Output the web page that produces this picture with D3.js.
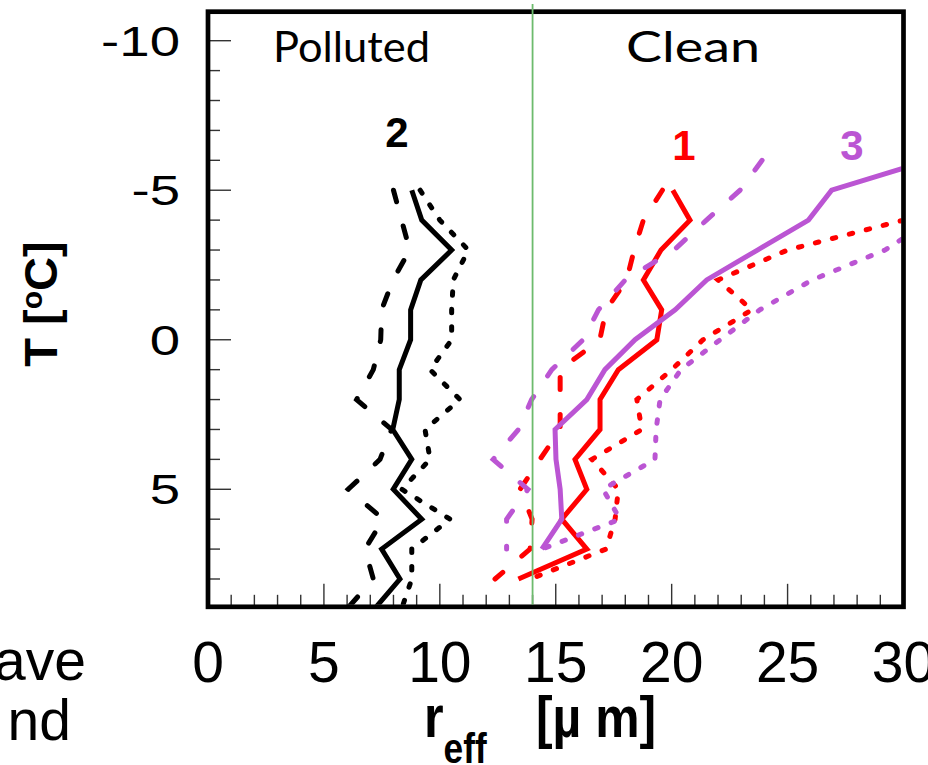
<!DOCTYPE html>
<html>
<head>
<meta charset="utf-8">
<script src="https://cdn.jsdelivr.net/npm/d3@7"></script>
<style>
  html, body { margin: 0; padding: 0; background: #fff; overflow: hidden; }
  svg { display: block; }
</style>
</head>
<body>
<div id="chart"></div>
<script>
// --- Data ---
const tempBlack = [-5, -4, -3, -2, -1, 0, 1, 2, 3, 4, 5, 6, 7, 8, 9];
const blackSolid  = [8.79, 9.22, 10.51, 9.18, 8.74, 8.74, 8.25, 8.25, 7.97, 8.79, 7.99, 9.22, 7.49, 8.28, 7.18];
const blackDashed = [8.0, 8.35, 8.7, 7.98, 7.49, 7.45, 7.13, 6.41, 7.92, 7.42, 6.05, 7.56, 6.77, 7.13, 6.0];
const blackDotted = [9.15, 10.0, 11.23, 10.58, 10.51, 10.51, 9.58, 10.87, 9.36, 9.58, 8.36, 10.44, 8.79, 8.79, 8.35];

const tempRed = [-5, -4, -3, -2, -1, 0, 1, 2, 3, 4, 5, 6, 7, 8];
const redSolid  = [20.05, 20.79, 19.54, 18.78, 19.57, 19.36, 17.7, 16.91, 16.91, 15.83, 16.34, 15.26, 16.34, 13.39];
const redDashed = [19.6, 18.78, 18.38, 18.06, 17.17, 16.9, 15.19, 15.19, 15.19, 14.32, 13.46, 13.98, 13.89, 12.38];
const tempRedDot = [-4, -3, -2, -1, 0, 1, 2, 3, 4, 5, 6, 7, 8];
const redDotted = [30.0, 25.0, 22.0, 23.46, 21.35, 20.0, 18.5, 18.71, 16.56, 17.7, 17.56, 17.17, 13.9];

const tempPurple = [-6, -5, -4, -3, -2, -1, 0, 1, 2, 3, 4, 5, 6, 7];
const purpleSolid  = [31.1, 26.9, 25.9, 23.7, 21.51, 20.15, 18.42, 17.12, 16.34, 14.97, 15.01, 15.19, 15.26, 14.4];
const purpleDashed = [23.9, 22.95, 21.5, 20.1, 18.0, 16.84, 16.18, 14.83, 13.96, 13.39, 12.3, 13.8, 12.88, 12.88];
const tempPurpleDot = [-4, -3, -2, -1, 0, 1, 2, 3, 4, 5, 6, 7];
const purpleDotted = [31.2, 29.2, 26.06, 23.8, 22.09, 20.4, 19.5, 19.33, 19.28, 17.04, 17.77, 14.4];

const xTickLabels = [0, 5, 10, 15, 20, 25, 30];
const yTickLabels = [-10, -5, 0, 5];
const divider = 14; // polluted / clean split in r_eff

const RED = "#ff0000", PURPLE = "#bb55d3", BLACK = "#000000";

const series = [
  { t: tempBlack, r: blackSolid, color: BLACK, style: "solid" },
  { t: tempBlack, r: blackDashed, color: BLACK, style: "dashed" },
  { t: tempBlack, r: blackDotted, color: BLACK, style: "dotted" },
  { t: tempRed, r: redSolid, color: RED, style: "solid" },
  { t: tempRed, r: redDashed, color: RED, style: "dashed" },
  { t: tempRedDot, r: redDotted, color: RED, style: "dotted" },
  { t: tempPurple, r: purpleSolid, color: PURPLE, style: "solid" },
  { t: tempPurple, r: purpleDashed, color: PURPLE, style: "dashed" },
  { t: tempPurpleDot, r: purpleDotted, color: PURPLE, style: "dotted" }
];
const dashes = { solid: null, dashed: "12,25", dotted: "3.5,14" };

// --- Layout ---
const width = 928, height = 765;
const x = d3.scaleLinear().domain([0, 30]).range([208, 903.5]);
const y = d3.scaleLinear().domain([-10, 8]).range([40.7, 579]);
const yTop = -10.97, yBottom = 8.93;

const svg = d3.select("#chart").append("svg")
  .attr("width", width)
  .attr("height", height);

svg.append("clipPath").attr("id", "plot-clip")
  .append("rect")
  .attr("x", x(0) + 2).attr("y", y(yTop) + 2)
  .attr("width", x(30) - x(0) - 4)
  .attr("height", y(yBottom) - y(yTop) - 4);

// --- Ticks (inside the frame) ---
const ticks = svg.append("g");
ticks.selectAll("line.ty")
  .data(d3.range(-10, 9))
  .enter().append("line")
  .attr("x1", x(0))
  .attr("x2", d => x(0) + (d % 5 === 0 ? 23 : 12))
  .attr("y1", d => y(d)).attr("y2", d => y(d))
  .attr("stroke", "#333").attr("stroke-width", 1.4);

ticks.selectAll("line.tx")
  .data(d3.range(1, 30))
  .enter().append("line")
  .attr("x1", d => x(d)).attr("x2", d => x(d))
  .attr("y1", y(yBottom))
  .attr("y2", d => y(yBottom) - (d % 5 === 0 ? 23 : 12))
  .attr("stroke", "#333").attr("stroke-width", 1.4);

// --- Lines ---
const line = d3.line()
  .x(d => x(d[1]))
  .y(d => y(d[0]));

svg.append("g").attr("clip-path", "url(#plot-clip)")
  .selectAll("path")
  .data(series)
  .enter().append("path")
  .attr("d", s => line(s.t.map((t, i) => [t, s.r[i]])))
  .attr("fill", "none")
  .attr("stroke", s => s.color)
  .attr("stroke-width", 5)
  .attr("stroke-linecap", s => s.style === "solid" ? "butt" : "round")
  .attr("stroke-linejoin", "miter")
  .attr("stroke-dasharray", s => dashes[s.style]);

// --- Frame ---
svg.append("rect")
  .attr("x", x(0)).attr("y", y(yTop))
  .attr("width", x(30) - x(0))
  .attr("height", y(yBottom) - y(yTop))
  .attr("fill", "none")
  .attr("stroke", "#000")
  .attr("stroke-width", 4.7);

// --- Divider line ---
svg.append("line")
  .attr("x1", x(divider)).attr("x2", x(divider))
  .attr("y1", 4).attr("y2", y(yBottom) - 2)
  .attr("stroke", "#6dbb6d").attr("stroke-width", 1.8);

// --- Tick labels ---
svg.append("g").selectAll("text")
  .data(yTickLabels)
  .enter().append("text")
  .attr("transform", d => `translate(180,${y(d)}) scale(1.3,1)`)
  .attr("dy", "0.36em")
  .attr("text-anchor", "end")
  .style("font-family", "'Liberation Sans', Arial, sans-serif")
  .style("font-size", "42px")
  .text(d => d);

svg.append("g").selectAll("text")
  .data(xTickLabels)
  .enter().append("text")
  .attr("x", d => x(d))
  .attr("y", 682)
  .attr("text-anchor", "middle")
  .style("font-family", "'Liberation Sans', Arial, sans-serif")
  .style("font-size", "57px")
  .text(d => d);

// cut-off text at the left edge
const leftFrag = [["ave", 86, 680], ["nd", 71, 740]];
svg.append("g").selectAll("text")
  .data(leftFrag)
  .enter().append("text")
  .attr("x", d => d[1])
  .attr("y", d => d[2])
  .attr("text-anchor", "end")
  .style("font-family", "'Liberation Sans', Arial, sans-serif")
  .style("font-size", "57px")
  .text(d => d[0]);

// --- Axis titles ---
const xt = svg.append("text")
  .attr("transform", "translate(424,737) scale(0.84,1)")
  .style("font-family", "'Liberation Sans Narrow', 'Liberation Sans', sans-serif")
  .style("font-weight", "bold")
  .style("font-size", "60px");
xt.append("tspan").text("r");
xt.append("tspan").attr("dy", 26).style("font-size", "42px").text("eff");
svg.append("text")
  .attr("transform", "translate(536,737) scale(0.86,1)")
  .style("font-family", "'Liberation Sans Narrow', 'Liberation Sans', sans-serif")
  .style("font-weight", "bold")
  .style("font-size", "58px")
  .text("[\u00b5 m]");

const yt = svg.append("text")
  .attr("transform", "translate(57,304) rotate(-90)")
  .attr("text-anchor", "middle")
  .style("font-family", "'Liberation Sans', Arial, sans-serif")
  .style("font-weight", "bold")
  .style("font-size", "47px");
yt.append("tspan").text("T [");
yt.append("tspan").attr("dy", -15).style("font-size", "30px").text("o");
yt.append("tspan").attr("dy", 15).text("C]");

// --- Region labels ---
const regions = [["Polluted", 273, 157], ["Clean", 626, 134]];
svg.append("g").selectAll("text")
  .data(regions)
  .enter().append("text")
  .attr("x", d => d[1]).attr("y", 62)
  .attr("textLength", d => d[2])
  .attr("lengthAdjust", "spacingAndGlyphs")
  .style("font-family", "Lato, 'Open Sans', sans-serif")
  .style("font-size", "42px")
  .text(d => d[0]);

// --- Group numbers ---
const groups = [["2", 397, 147, BLACK], ["1", 684, 160, RED], ["3", 852, 160, PURPLE]];
svg.append("g").selectAll("text")
  .data(groups)
  .enter().append("text")
  .attr("x", d => d[1]).attr("y", d => d[2])
  .attr("text-anchor", "middle")
  .attr("fill", d => d[3])
  .style("font-family", "'Liberation Sans', Arial, sans-serif")
  .style("font-weight", "bold")
  .style("font-size", "42px")
  .text(d => d[0]);
</script>
</body>
</html>
